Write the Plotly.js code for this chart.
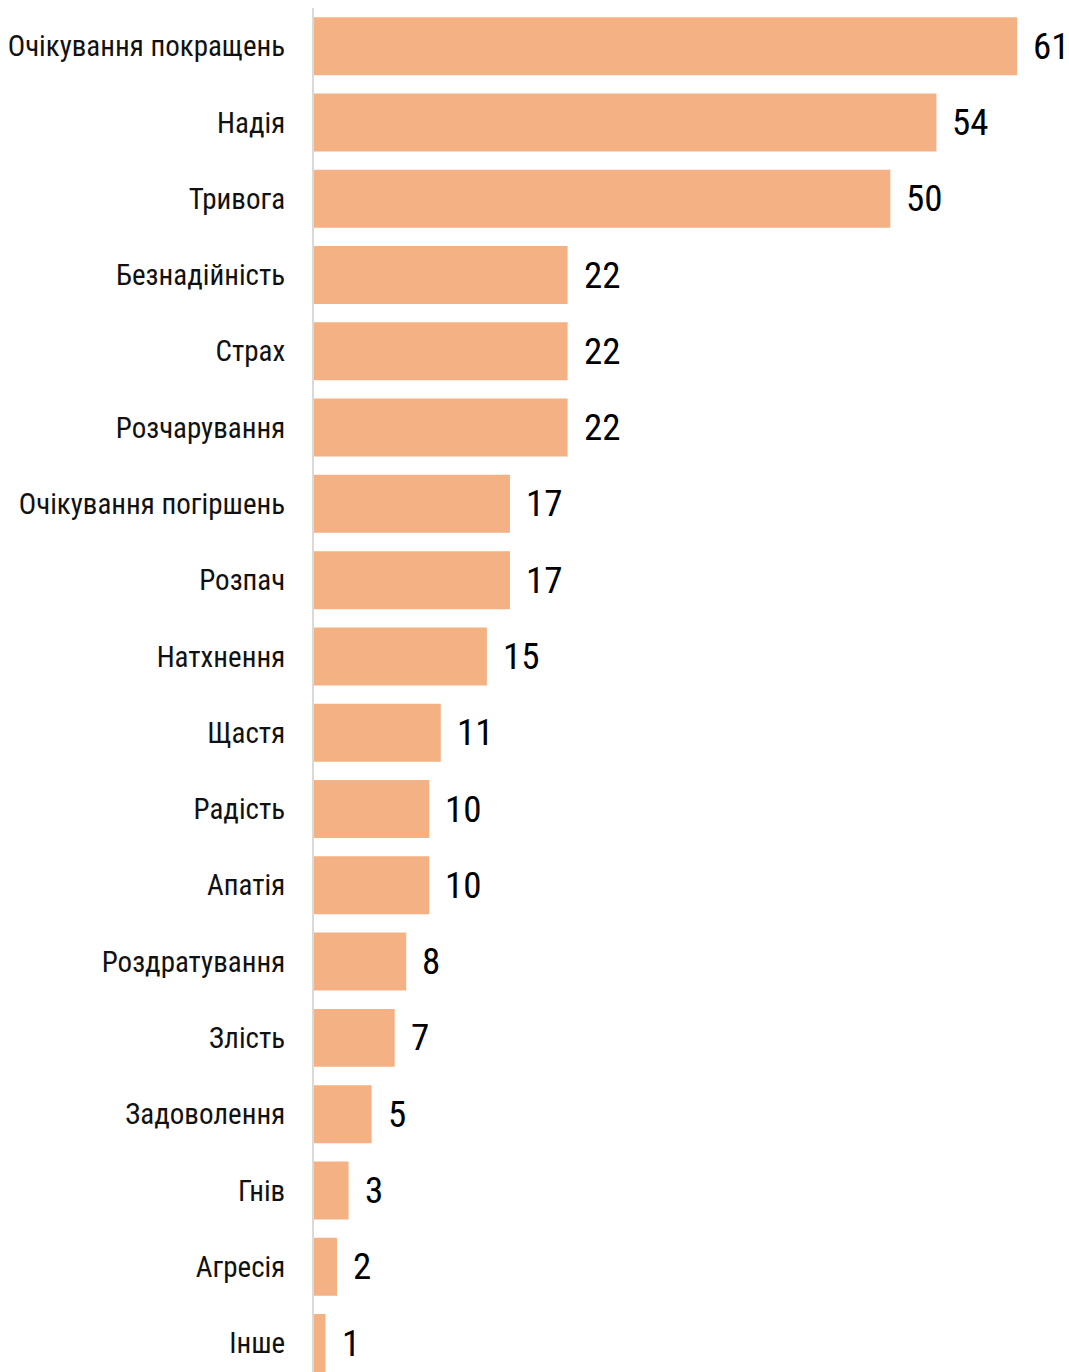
<!DOCTYPE html>
<html>
<head>
<meta charset="utf-8">
<script src="https://cdn.plot.ly/plotly-3.0.1.min.js"></script>
<style>html,body{margin:0;padding:0;background:#fff;}#chart{width:1069px;height:1372px;}</style>
</head>
<body>
<div id="chart"></div>
<script>
const categories = ["Очікування покращень","Надія","Тривога","Безнадійність","Страх","Розчарування","Очікування погіршень","Розпач","Натхнення","Щастя","Радість","Апатія","Роздратування","Злість","Задоволення","Гнів","Агресія","Інше"];
const values = [61,54,50,22,22,22,17,17,15,11,10,10,8,7,5,3,2,1];

const FONT = "'Roboto Condensed', 'Liberation Sans Narrow', 'DejaVu Sans Condensed', Roboto, sans-serif";

const trace = {
  type: 'bar',
  orientation: 'h',
  x: values,
  y: categories,
  marker: {color: '#F4B183', line: {width: 0}},
  hoverinfo: 'x+y'
};

const annotations = categories.map((c, i) => ({
  x: values[i], y: c, xref: 'x', yref: 'y',
  text: String(values[i]), showarrow: false,
  xanchor: 'left', yanchor: 'middle', xshift: 14,
  font: {family: FONT, size: 37, color: '#000', weight: 400}
}));

const layout = {
  width: 1069, height: 1372,
  margin: {l: 314, r: 0, t: 8, b: 0, pad: 0},
  paper_bgcolor: '#fff', plot_bgcolor: '#fff',
  showlegend: false,
  bargap: 0.24,
  xaxis: {range: [0, 65.5], showgrid: false, zeroline: false, showticklabels: false, showline: false, ticks: ''},
  yaxis: {
    type: 'category', categoryorder: 'array', categoryarray: categories,
    range: [17.38, -0.5], showgrid: false, zeroline: false,
    showline: true, linecolor: '#d9d9d9', linewidth: 2,
    ticks: '', ticklabelstandoff: 21,
    tickfont: {family: FONT, size: 29, color: '#111', weight: 400}
  },
  annotations: annotations
};

Plotly.newPlot('chart', [trace], layout, {displayModeBar: false, staticPlot: true});
</script>
</body>
</html>
